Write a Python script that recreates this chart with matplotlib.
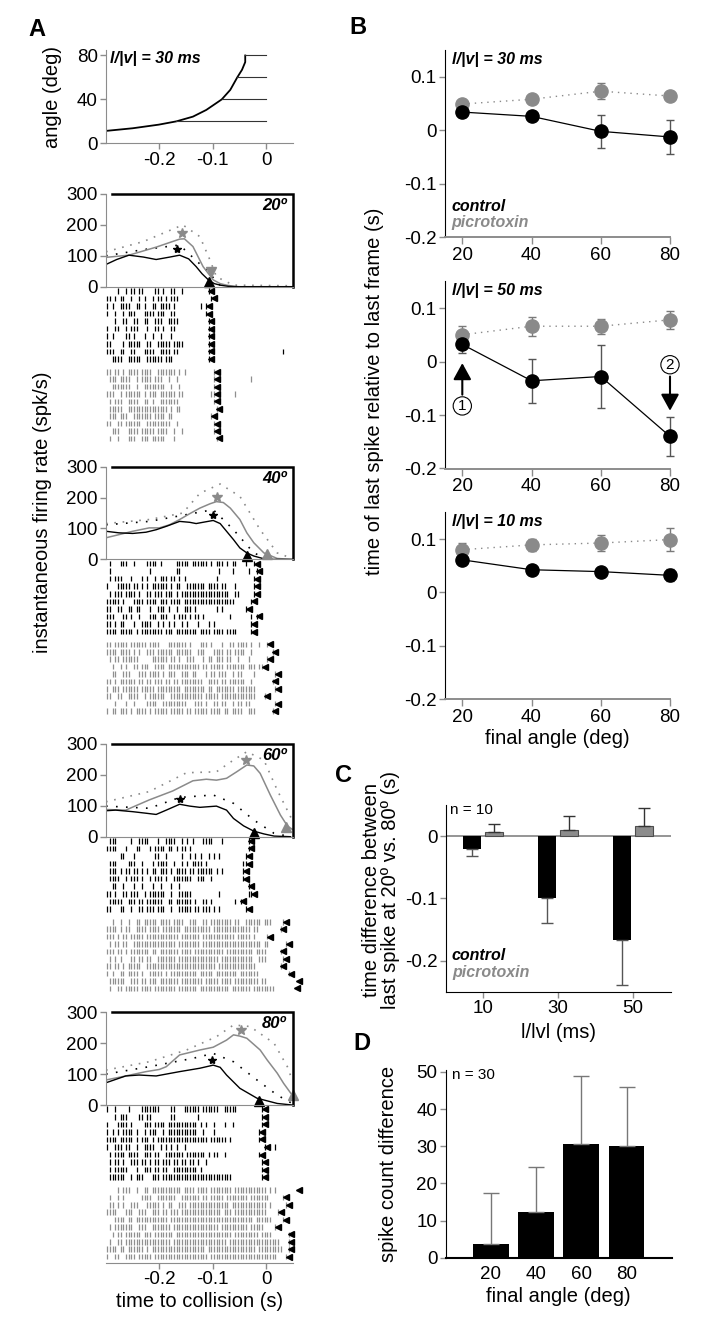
import matplotlib
matplotlib.use("Agg")
import matplotlib.pyplot as plt

plt.rcParams["font.family"] = ["Liberation Sans", "DejaVu Sans"]
plt.rcParams["axes.unicode_minus"] = False

W, H = 710, 1343
GREY = "#8a8a8a"
AXGREY = "#8c8c8c"
TICK_FS = 13.5
LABEL_FS = 14.5

# ---------------- A: stimulus angle (l/|v| = 30 ms)
ANGLE_T = [-0.3, -0.25, -0.201, -0.168, -0.137, -0.112, -0.083, -0.067, -0.054, -0.045, -0.039, -0.039]
ANGLE_DEG = [11.3, 13.7, 17.0, 20.0, 24.3, 30.4, 40.0, 48.7, 60.0, 67.0, 74.0, 80.0]
HOLD_ANGLES = [20, 40, 60, 80]
HOLD_START = [-0.168, -0.083, -0.054, -0.039]

# ---------------- A: instantaneous firing rates (spk/s)
T20_CTRL = [-0.3, -0.28, -0.257, -0.23, -0.206, -0.18, -0.162, -0.145, -0.131, -0.12, -0.108, -0.097, -0.086, -0.07, -0.05, 0.05]
R20_CTRL = [72, 88, 102, 96, 88, 96, 102, 90, 65, 42, 22, 10, 5, 1, 0, 0]
T20_PTX = [-0.3, -0.257, -0.206, -0.162, -0.153, -0.137, -0.118, -0.099, -0.086, -0.074, -0.055, 0.05]
R20_PTX = [95, 102, 128, 154, 155, 130, 65, 22, 10, 5, 0, 0]
T20_PTX_SEM = [-0.3, -0.23, -0.156, -0.124, -0.105, -0.093, -0.061, 0.05]
R20_PTX_SEM = [113, 146, 200, 162, 86, 32, 5, 3]
T20_CTRL_SEM = [-0.3, -0.23, -0.162, -0.112, -0.086, -0.06]
R20_CTRL_SEM = [100, 120, 135, 54, 5, 0]

T40_CTRL = [-0.3, -0.276, -0.25, -0.225, -0.206, -0.187, -0.162, -0.143, -0.131, -0.112, -0.099, -0.086, -0.074, -0.061, -0.049, -0.036, -0.023, -0.004, 0.015, 0.05]
R40_CTRL = [91, 86, 84, 88, 96, 107, 123, 120, 116, 122, 126, 116, 91, 64, 37, 21, 11, 2, 0, 0]
T40_PTX = [-0.3, -0.276, -0.25, -0.219, -0.2, -0.181, -0.162, -0.143, -0.124, -0.105, -0.093, -0.08, -0.067, -0.049, -0.036, -0.023, -0.004, 0.021, 0.05]
R40_PTX = [70, 80, 91, 102, 102, 112, 129, 148, 166, 180, 187, 184, 166, 129, 86, 54, 21, 3, 0]
T40_PTX_SEM = [-0.3, -0.219, -0.156, -0.124, -0.086, -0.049, -0.011, 0.021, 0.046]
R40_PTX_SEM = [116, 129, 150, 214, 244, 204, 96, 21, 5]
T40_CTRL_SEM = [-0.3, -0.219, -0.149, -0.099, -0.061, -0.023, 0.002]
R40_CTRL_SEM = [112, 123, 145, 161, 96, 21, 2]

T60_CTRL = [-0.3, -0.282, -0.25, -0.225, -0.206, -0.187, -0.162, -0.143, -0.124, -0.093, -0.074, -0.061, -0.042, -0.023, -0.004, 0.015, 0.046]
R60_CTRL = [84, 86, 81, 76, 72, 86, 105, 99, 95, 99, 86, 59, 35, 18, 9, 2, 0]
T60_PTX = [-0.3, -0.263, -0.219, -0.175, -0.137, -0.112, -0.093, -0.074, -0.055, -0.036, -0.023, -0.011, 0.008, 0.027, 0.040, 0.049]
R60_PTX = [88, 86, 119, 148, 181, 186, 183, 189, 210, 232, 229, 205, 135, 70, 35, 24]
T60_PTX_SEM = [-0.3, -0.219, -0.149, -0.093, -0.061, -0.036, -0.004, 0.021, 0.049]
R60_PTX_SEM = [113, 146, 207, 210, 248, 275, 248, 151, 54]
T60_CTRL_SEM = [-0.3, -0.219, -0.162, -0.099, -0.061, -0.023, 0.015, 0.046]
R60_CTRL_SEM = [99, 92, 127, 135, 108, 54, 11, 0]

T80_CTRL = [-0.3, -0.263, -0.238, -0.206, -0.162, -0.124, -0.099, -0.086, -0.074, -0.049, -0.017, 0.021, 0.049]
R80_CTRL = [72, 94, 97, 94, 108, 119, 129, 122, 97, 54, 22, 5, 0]
T80_PTX = [-0.3, -0.263, -0.225, -0.2, -0.187, -0.162, -0.124, -0.099, -0.074, -0.061, -0.049, -0.036, -0.011, 0.002, 0.021, 0.033, 0.049]
R80_PTX = [81, 94, 108, 115, 124, 162, 178, 187, 210, 227, 223, 216, 178, 146, 103, 70, 32]
T80_PTX_SEM = [-0.3, -0.219, -0.149, -0.093, -0.061, -0.030, 0.015, 0.040, 0.049]
R80_PTX_SEM = [113, 140, 178, 221, 259, 254, 200, 124, 81]
T80_CTRL_SEM = [-0.3, -0.219, -0.137, -0.099, -0.061, -0.017, 0.021, 0.049]
R80_CTRL_SEM = [100, 124, 151, 167, 140, 81, 32, 5]

FINAL_ANGLES = [20, 40, 60, 80]
PEAK_CTRL_T = [-0.166, -0.100, -0.162, -0.102]
PEAK_CTRL_R = [121, 145, 122, 146]
PEAK_PTX_T = [-0.157, -0.091, -0.037, -0.047]
PEAK_PTX_R = [173, 203, 248, 243]
LAST_CTRL_T = [-0.107, -0.035, -0.022, -0.014]
LAST_CTRL_R = [14, 12, 12, 14]
LAST_PTX_T = [-0.104, 0.001, 0.038, 0.051]
LAST_PTX_R = [46, 19, 30, 32]

# ---------------- A: spike rasters, 5 ms bins from -0.3 s ('|' spike, '<' last spike marker)
RASTER_T0 = -0.3
RASTER_BIN = 0.005
RASTER20_CTRL = [
    "....|..|.||.||....||.|..||..|.........|<",
    "||.|.||..|..|.|..|.||.|.|||............|<",
    "|.|..||||..||.|..||.||||.|.........|.|<",
    "|..|..|.|||...||||.|||..||...........|<",
    "...|..||..||..||..|||..||||...........|<",
    "|..||..|.|||...|..||.|..||............|<",
    "|.|....||.|...|..|..|...|.............|<",
    "||....|.|||||..||..|||||.||||.........|<",
    "|||..||..||...||||..||||.||...........|<..........................|",
    "..||||..|||||..||||||.|||.............|<",
]
RASTER20_PTX = [
    "||.||.|.||||.||||..|||||||.|.|..........|<",
    ".|||.||||..|.||||.|||..|..|.............|<............|",
    "..|||||||..|..||||||||..|..|............|<",
    "|||..|.||||||.|.|||.||||||.||..........||<......|",
    ".|.|||..||||..||.|..|||||||.............|<",
    ".|||||..|||||||||||||||.|.||.............|<",
    ".|||.|||..|||||||.||||.||..............|<",
    "||..||.||||||..|||||||||..|.............|<",
    "..|||...||||.|||||.||||..|..|...........|<",
    ".|..|...|||..|||.|||||...|...............|<",
]
RASTER40_CTRL = [
    ".|...|||..|....||||.|.....|||||.||||||.|.|||.|.||...|..|<",
    ".|..............|.........||..............|....|.....|..|<",
    ".|.|||...|...|.|..|.|||.||.|.|...........|.............|<",
    "|...|||||.||.|.|.||||||.|.||..|||||||.||||.||...|......|<",
    ".|.|||.||||.|..||.|||.|||.|.||||||||||||||||||..||.....|<",
    "|||||.|...||||.||||.|||.||||.|||||||||||||||||||......|<",
    "||..||..||.||...|..|||.|..|..|||.|.......|.|........|<",
    "|||...||.|..|...|||.|||..|.|||.|.||.|.........|.......|.|<",
    "||.|.||...|..||||..|.|.|.|..|.|...|...|.|.............|<",
    "||||.|||||.|.||||||||.|||.||||||||.||||.||||.||||.....|<",
]
RASTER40_PTX = [
    "||.|||||.||||||.||||...|||||||.|...|||.|...|..||.||||.|..|..|<",
    "||||.||||.|.|..|||.||||||.||||||..|||...||||.||.||||..|.......|<",
    ".|.||.||||||.....||||||.||.|..|||...|.||.|||.||..|...|......|<",
    "..|..|.|..||.|||..||||.||||||||||||.||.|||||.|||||||.|||.||<",
    "..||..|||...|||.||||.|.|||..|||.||...|.||.|||..|.||....|.......|<",
    "||.|.||||||.||.||.|||.||.||.||||||||..||||.||.||||||..|.......|<",
    "|.|||.||||||.|||||.|||||||||.||||||||.||.|||||||.|||||||.......|<",
    "||..||..||||..|.||||||..||||||||||||.|||||.|||||||||||||...|<",
    "...|...|..|....||||..|||||||||...|||.|..||.||..|.||.||.........|<",
    "|.||.|||.|.||||.|.|||||.|||||.||.|||||.||||.||.||||..|||......|<",
]
RASTER60_CTRL = [
    ".|||.....|..||||...|..||||..|.|.|...||||...|.........|<",
    "||||...|...||...|.||||.||.|.||.|.....................|<",
    ".....||...|.......||..|.....|..|.|.|..|.|.|.........|<",
    ".|||....|||..|...|.||||..|..|.|.||||.|.............||<",
    ".|||.|.||.||.|.|.||.|||.|.||||.||.||||||.|.|.......|<",
    ".||||..|.|||.|..|.|||.|..|||||||..|||..|...........|<",
    "..||..|...|..|...|..|...|..|.........................|<",
    "||.|..||.|||..|.||||||..|..|||||..........|..........||<",
    ".|||||..|||.||.||||||..||.||||||.|..||.|........|.|<",
    "||...||..|..||.|||.|||..|..|||||.||.|||.|.|.........|<",
]
RASTER60_PTX = [
    "..|..|..|..||.|||||.||||.||||..|||..||.||||||||.||..||||||.|||....|<",
    "||||.|.||..||||.||||.|||||||.||||||||||.||||||||||||||.||........|<",
    "|||.|.||.|||||.||||||||||||.|||||||.||||||||||||.|||||.|....|<",
    ".|.||.||..||||||||||||||||.||||||||.||||||||||||||||||||||.||......|<",
    "|||.||.|.|||||||.||.|||||||.||||.|||||||||||.||||||||||.||||.....|<",
    ".|.|.|...||.||.||..|||||||.|||||||||||||||.||||||||||||..|||......|<",
    "||.||.|.|||||..||||||||||||||||||||||||||.||||||||||||||.........|<",
    "|.|..||.||||.|..|||||.|.||||||||||.|||||.||||||||.|||||||...........|<",
    ".||||||..|||.||.|||.|||||||.||||||||.|||||.||||.|||||||||.||...........|<",
    ".|..||.|||||.||||.||||||||.|||||||.|||||||||||.|||||||.||||||||.......|<",
]
RASTER80_CTRL = [
    "|..|....|....|||||||....||...||||||.||||||..|||||.........|<",
    "...|.|||....||.||.......||........|.......................|<",
    "|...||||.|....|||.||||.|||||||||||.|.|..|...|..|..........|<",
    "|.|.|.||||.|..|.|||..|.|||||||||||..|...|................|<",
    "||||.|||||.|.|||.|.|||||||||||||||||||.||||||.|..........|<",
    "|..|||.||..|..||||..|.|.|.|..|.............................|<..|",
    ".|.||||.||||..|||.||..|||||||.|||||||.|.||..|............|<",
    ".|.||.|..|||.||.|.||.|||.||.||.||.|..|....................|<",
    ".|.|||||...|..|||.||.||..|||||||||.|......................|<",
    ".||||||..|.|||...|||.||||||||||||||||||||||||||...........|<",
]
RASTER80_PTX = [
    "....|.|||..|..||.|||||||||||.||||.||||.||||||||.||||||||||||.|.|.......|<",
    ".|..|.|......||||..|||||||..|||||||.||.|||||.||||||||.|||||||.....|<",
    ".||.|.|..|||...|||||.|.||..|||.|||||||||||||||.|||||||||||||.|.....|<",
    "||||...|||..|||..|||.||.|||.|||||||||||||||.|||.||||||||||||....|<",
    "...||||.||.||||||||||||.|||||||||||||||||||||||||||||||.||||||....|<",
    ".|.|||||||..|||..|||||||.|||||||||||||||||.||||||||||.|||||....|<",
    "..|.||.||||||.|||.|||||||.|||||||||||||||||||||.|||||||||.||||......|<",
    ".|..||.|||||||||||||||||.||||||||||||||||||||.|||||||||||||||||||...|<",
    "||||.||.||||||.|.||||||||||||||||||||.||||||||||||||||||.|||||||||..|<",
    "|..||..||||.|||||.||||||||||||||||||||.|||||||||||||||||||||||||...|<",
]

# ---------------- B: time of last spike relative to last frame (s)
LV_TITLES = ["l/|v| = 30 ms", "l/|v| = 50 ms", "l/|v| = 10 ms"]
B30_CTRL = [0.034, 0.026, -0.002, -0.0125]
B30_CTRL_ERR = [0.010, 0.005, 0.031, 0.031]
B30_PTX = [0.049, 0.058, 0.073, 0.064]
B30_PTX_ERR = [0.005, 0.006, 0.015, 0.008]
B50_CTRL = [0.032, -0.036, -0.028, -0.140]
B50_CTRL_ERR = [0.016, 0.041, 0.059, 0.037]
B50_PTX = [0.050, 0.066, 0.066, 0.078]
B50_PTX_ERR = [0.016, 0.018, 0.014, 0.017]
B10_CTRL = [0.061, 0.0425, 0.039, 0.032]
B10_CTRL_ERR = [0.006, 0.004, 0.004, 0.011]
B10_PTX = [0.080, 0.089, 0.0925, 0.099]
B10_PTX_ERR = [0.013, 0.011, 0.015, 0.022]

# ---------------- C: last-spike time difference 20 vs 80 deg (s)
C_LV = [10, 30, 50]
C_CTRL = [-0.021, -0.100, -0.167]
C_CTRL_ERR = [0.011, 0.040, 0.073]
C_PTX = [0.006, 0.0096, 0.0155]
C_PTX_ERR = [0.013, 0.023, 0.030]

# ---------------- D: spike count difference
D_DIFF = [3.7, 12.4, 30.6, 30.0]
D_ERR = [13.8, 12.1, 18.2, 15.8]


def px_axes(fig, left, top, right, bottom):
    return fig.add_axes([left / W, 1 - bottom / H, (right - left) / W, (bottom - top) / H])


def ftext(fig, x, y, s, **kw):
    return fig.text(x / W, 1 - y / H, s, **kw)


def grey_axes(ax, left_col=AXGREY, bottom_col=AXGREY):
    ax.spines["top"].set_visible(False)
    ax.spines["right"].set_visible(False)
    ax.spines["left"].set_color(left_col)
    ax.spines["bottom"].set_color(bottom_col)
    ax.tick_params(colors=AXGREY, labelcolor="black", labelsize=TICK_FS,
                   length=4, width=1, pad=2)
    ax.patch.set_visible(False)


def parse_row(row):
    spikes = [RASTER_T0 + (i + 0.5) * RASTER_BIN for i, c in enumerate(row) if c == "|"]
    marks = [RASTER_T0 + (i + 0.5) * RASTER_BIN for i, c in enumerate(row) if c == "<"]
    return spikes, marks


fig = plt.figure(figsize=(W / 100, H / 100), dpi=100)

# ======================= panel A
ax = px_axes(fig, 106, 50, 292.7, 143.3)
grey_axes(ax)
ax.plot(ANGLE_T, ANGLE_DEG, color="black", lw=1.3)
for a, t0 in zip(HOLD_ANGLES, HOLD_START):
    ax.plot([t0, 0], [a, a], color="#333333", lw=0.8)
ax.set_xlim(-0.3, 0.05)
ax.set_ylim(0, 85)
ax.set_yticks([0, 40, 80])
ax.set_xticks([-0.2, -0.1, 0])
ax.set_xticklabels(["-0.2", "-0.1", "0"])
ftext(fig, 110, 58, "l/|v| = 30 ms", fontsize=11.5, fontweight="bold",
      style="italic", va="center")
ftext(fig, 53, 97, "angle (deg)", fontsize=LABEL_FS, rotation=90,
      ha="center", va="center")

rate_tops = [194, 466.7, 744, 1012.3]
curves = [
    (T20_CTRL, R20_CTRL, T20_PTX, R20_PTX, T20_CTRL_SEM, R20_CTRL_SEM, T20_PTX_SEM, R20_PTX_SEM),
    (T40_CTRL, R40_CTRL, T40_PTX, R40_PTX, T40_CTRL_SEM, R40_CTRL_SEM, T40_PTX_SEM, R40_PTX_SEM),
    (T60_CTRL, R60_CTRL, T60_PTX, R60_PTX, T60_CTRL_SEM, R60_CTRL_SEM, T60_PTX_SEM, R60_PTX_SEM),
    (T80_CTRL, R80_CTRL, T80_PTX, R80_PTX, T80_CTRL_SEM, R80_CTRL_SEM, T80_PTX_SEM, R80_PTX_SEM),
]
rasters = [
    (RASTER20_CTRL, RASTER20_PTX),
    (RASTER40_CTRL, RASTER40_PTX),
    (RASTER60_CTRL, RASTER60_PTX),
    (RASTER80_CTRL, RASTER80_PTX),
]
RATE_H = 92.7
RASTER_H = 157.7

for k, angle in enumerate(FINAL_ANGLES):
    top = rate_tops[k]
    ax = px_axes(fig, 106, top, 292.7, top + RATE_H)
    grey_axes(ax)
    tc, rc, tp, rp, tcs, rcs, tps, rps = curves[k]
    ax.plot(tps, rps, color=GREY, lw=1.2, ls=(0, (1, 4)))
    ax.plot(tcs, rcs, color="black", lw=1.2, ls=(0, (1, 5)))
    ax.plot(tp, rp, color=GREY, lw=1.1)
    ax.plot(tc, rc, color="black", lw=1.0)
    ax.plot(PEAK_PTX_T[k], PEAK_PTX_R[k], marker="*", ms=7, color=GREY)
    ax.plot(PEAK_CTRL_T[k], PEAK_CTRL_R[k], marker="*", ms=6, color="black")
    ax.plot(LAST_CTRL_T[k], LAST_CTRL_R[k], marker="^", ms=7, color="black", clip_on=False)
    ax.plot(LAST_PTX_T[k], LAST_PTX_R[k], marker="v" if k == 0 else "^", ms=7,
            color=GREY, clip_on=False)
    # black stimulus bracket
    ax.plot([-0.288, 0.05, 0.05], [300, 300, 0], color="black", lw=1.8,
            clip_on=False, solid_joinstyle="miter")
    ax.set_xlim(-0.3, 0.05)
    ax.set_ylim(0, 300)
    ax.set_yticks([0, 100, 200, 300])
    ax.set_xticks([])
    ftext(fig, 286.5, top + 11.5, f"{angle}\u00ba", fontsize=12, fontweight="bold",
          style="italic", ha="right", va="center")

    # raster below
    rax = px_axes(fig, 106, top + RATE_H, 292.7, top + RATE_H + RASTER_H)
    rax.patch.set_visible(False)
    ctrl_rows, ptx_rows = rasters[k]
    for i, row in enumerate(ctrl_rows):
        y = 4.2 + 7.55 * i
        sp, mk = parse_row(row)
        rax.vlines(sp, y - 2.8, y + 2.8, color="black", lw=0.9)
        rax.plot(mk, [y] * len(mk), marker="<", ms=5, color="black", ls="none", clip_on=False)
    for i, row in enumerate(ptx_rows):
        y = 85.0 + 7.4 * i
        sp, mk = parse_row(row)
        rax.vlines(sp, y - 2.8, y + 2.8, color="#8f8f8f", lw=0.9)
        rax.plot(mk, [y] * len(mk), marker="<", ms=5, color="black", ls="none", clip_on=False)
    rax.set_xlim(-0.3, 0.05)
    rax.set_ylim(RASTER_H, 0)
    if k < 3:
        rax.axis("off")
    else:
        grey_axes(rax)
        rax.spines["left"].set_visible(False)
        rax.set_yticks([])
        rax.set_xticks([-0.2, -0.1, 0])
        rax.set_xticklabels(["-0.2", "-0.1", "0"])
        rax.set_xlabel("time to collision (s)", fontsize=LABEL_FS, labelpad=3)

ftext(fig, 43, 512, "instantaneous firing rate (spk/s)", fontsize=LABEL_FS,
      rotation=90, ha="center", va="center")

# ======================= panel B
b_boxes = [(50, 237.3), (281.3, 468.5), (512.3, 699.3)]
b_data = [
    (B30_CTRL, B30_CTRL_ERR, B30_PTX, B30_PTX_ERR),
    (B50_CTRL, B50_CTRL_ERR, B50_PTX, B50_PTX_ERR),
    (B10_CTRL, B10_CTRL_ERR, B10_PTX, B10_PTX_ERR),
]
ARROW = dict(arrowstyle="-|>,head_length=1.0,head_width=0.55", color="black", lw=1.5,
             mutation_scale=10, shrinkA=0, shrinkB=0)
for k, (top, bottom) in enumerate(b_boxes):
    ax = px_axes(fig, 445, top, 670, bottom)
    grey_axes(ax, left_col="black")
    ax.spines["bottom"].set_linewidth(1.4)
    ctrl, ctrl_err, ptx, ptx_err = b_data[k]
    ax.errorbar(FINAL_ANGLES, ptx, yerr=ptx_err, fmt="o", color=GREY, ms=9.5,
                ecolor="#7a7a7a", elinewidth=1, capsize=3, clip_on=False)
    ax.plot(FINAL_ANGLES, ptx, color=GREY, lw=1, ls=(0, (1, 3.5)))
    ax.errorbar(FINAL_ANGLES, ctrl, yerr=ctrl_err, fmt="o-", color="black", ms=9.5,
                lw=0.9, ecolor="#555555", elinewidth=1, capsize=3, clip_on=False)
    ax.set_xlim(15, 80)
    ax.set_ylim(-0.2, 0.15)
    ax.set_yticks([-0.2, -0.1, 0, 0.1])
    ax.set_yticklabels(["-0.2", "-0.1", "0", "0.1"])
    ax.set_xticks(FINAL_ANGLES)
    ax.tick_params(axis="x", length=5)
    ftext(fig, 451.5, top + 9.5, LV_TITLES[k], fontsize=11.5, fontweight="bold",
          style="italic", va="center")
    if k == 0:
        ftext(fig, 451.5, 206.5, "control", fontsize=11.5, fontweight="bold",
              style="italic", va="center")
        ftext(fig, 451.5, 222.5, "picrotoxin", fontsize=11.5, fontweight="bold",
              style="italic", va="center", color=GREY)
    if k == 1:
        ax.annotate("", xy=(20, -0.003), xytext=(20, -0.062), arrowprops=ARROW)
        ax.text(20, -0.083, "1", ha="center", va="center", fontsize=11,
                bbox=dict(boxstyle="circle,pad=0.14", fc="white", ec="black", lw=0.8))
        ax.annotate("", xy=(80, -0.092), xytext=(80, -0.028), arrowprops=ARROW)
        ax.text(80, -0.006, "2", ha="center", va="center", fontsize=11,
                bbox=dict(boxstyle="circle,pad=0.14", fc="white", ec="black", lw=0.8))
    if k == 2:
        ax.set_xlabel("final angle (deg)", fontsize=LABEL_FS, labelpad=2)

ftext(fig, 375, 391, "time of last spike relative to last frame (s)", fontsize=LABEL_FS,
      rotation=90, ha="center", va="center")

# ======================= panel C
ax = px_axes(fig, 445.7, 805, 670.7, 991.7)
grey_axes(ax, left_col="black", bottom_col="black")
ax.axhline(0, color=AXGREY, lw=1.3, zorder=0)
xc = [v - 3.0 for v in C_LV]
xp = [v + 2.9 for v in C_LV]
ax.bar(xc, C_CTRL, width=4.7, color="black")
ax.bar(xp, C_PTX, width=4.7, color="#8c8c8c", edgecolor="#4d4d4d", lw=0.8)
ax.errorbar(xc, C_CTRL, yerr=[C_CTRL_ERR, [0] * 3], fmt="none", ecolor="#555555",
            elinewidth=1, capsize=4)
ax.errorbar(xp, C_PTX, yerr=[[0] * 3, C_PTX_ERR], fmt="none", ecolor="#333333",
            elinewidth=1, capsize=4)
ax.set_xlim(0, 60)
ax.set_ylim(-0.25, 0.05)
ax.set_yticks([-0.2, -0.1, 0])
ax.set_yticklabels(["-0.2", "-0.1", "0"])
ax.set_xticks(C_LV)
ax.set_xlabel("l/lvl (ms)", fontsize=LABEL_FS, labelpad=4)
ftext(fig, 450, 810, "n = 10", fontsize=11, va="center")
ftext(fig, 452, 956, "control", fontsize=11.5, fontweight="bold", style="italic", va="center")
ftext(fig, 452, 972, "picrotoxin", fontsize=11.5, fontweight="bold", style="italic",
      va="center", color=GREY)
ftext(fig, 381, 890, "time difference between\nlast spike at 20\u00ba vs. 80\u00ba (s)",
      fontsize=LABEL_FS, rotation=90, ha="center", va="center", linespacing=0.95,
      multialignment="center")

# ======================= panel D
ax = px_axes(fig, 445.7, 1070, 671.7, 1257.7)
grey_axes(ax, left_col="black", bottom_col="black")
ax.spines["bottom"].set_linewidth(1.5)
ax.bar(FINAL_ANGLES, D_DIFF, width=15.8, color="black")
ax.errorbar(FINAL_ANGLES, D_DIFF, yerr=[[0] * 4, D_ERR], fmt="none", ecolor="#777777",
            elinewidth=1, capsize=5.5)
ax.set_xlim(0, 100)
ax.set_ylim(0, 50.5)
ax.set_yticks([0, 10, 20, 30, 40, 50])
ax.set_xticks(FINAL_ANGLES)
ax.tick_params(axis="x", length=0, pad=6)
ax.set_xlabel("final angle (deg)", fontsize=LABEL_FS, labelpad=3)
ftext(fig, 451.5, 1075, "n = 30", fontsize=11, va="center")
ftext(fig, 388, 1164, "spike count difference", fontsize=LABEL_FS, rotation=90,
      ha="center", va="center")

# panel letters
for letter, (x, y) in zip("ABCD", [(37, 29), (358, 28), (343, 775), (362, 1044)]):
    ftext(fig, x, y, letter, fontsize=17, fontweight="bold", ha="center", va="center")

fig.savefig("out.png", dpi=100)
